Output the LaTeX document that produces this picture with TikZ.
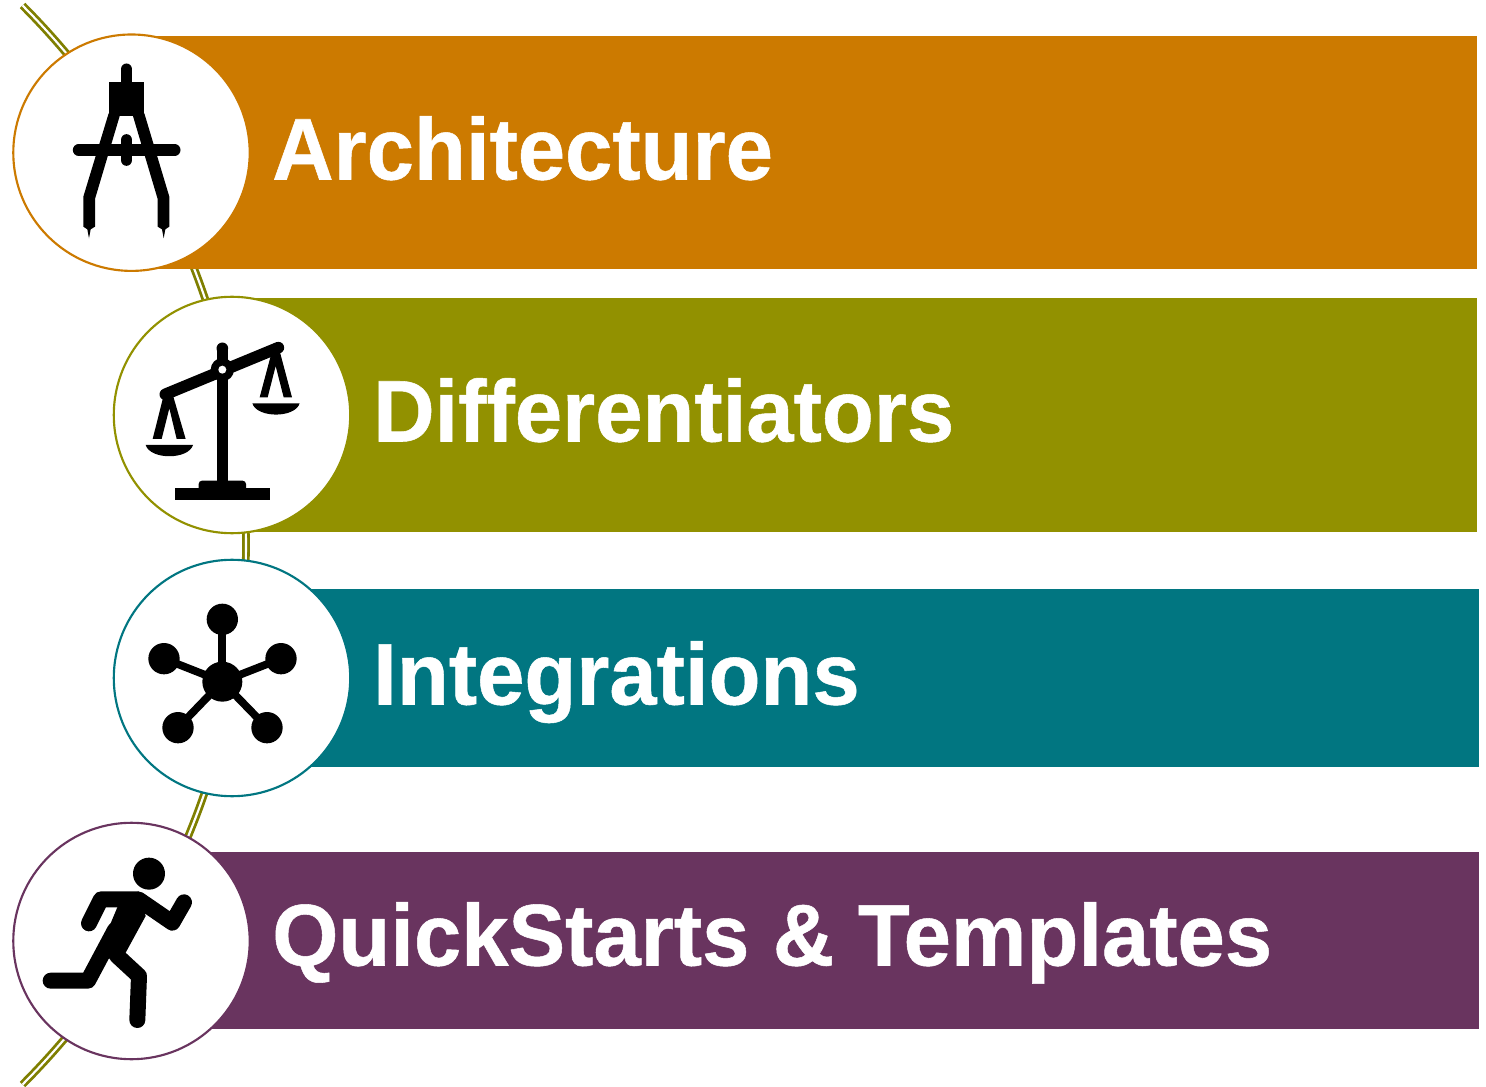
\documentclass[tikz,border=0pt]{standalone}
\usepackage{fontspec}
\setmainfont{Liberation Sans}
\newfontfamily\heavyfont[FakeBold=0.6]{Liberation Sans Bold}
\definecolor{cOrange}{HTML}{CC7A00}
\definecolor{cOlive}{HTML}{929100}
\definecolor{cTeal}{HTML}{017681}
\definecolor{cPurple}{HTML}{69345F}
\definecolor{cLine}{HTML}{7F7F00}
\tikzset{
  ring/.style={circle,draw=#1,fill=white,line width=1.6pt,minimum size=177.3pt,inner sep=0pt},
  label/.style={anchor=base west,text=white,inner sep=0pt,yscale=1.03,transform shape,font=\fontsize{63.75}{70}\heavyfont},
  icon/.style={x=0.25pt,y=-0.25pt,line cap=round,line join=round},
}
\begin{document}
\begin{tikzpicture}[x=0.75pt,y=-0.75pt]
\useasboundingbox (0,0) rectangle (1486,1087);
% arc behind
\draw[cLine,line width=2.1pt,double=white,double distance=1.6pt]
  plot[domain=-45:45,samples=80,smooth] ({-517+763*cos(\x)},{545+763*sin(\x)});
% bars
\fill[cOrange] (132,36) rectangle (1477,269.5);
\fill[cOlive] (232,298.3) rectangle (1477,531.7);
\fill[cTeal] (232,589) rectangle (1479,766.7);
\fill[cPurple] (132,851.7) rectangle (1479,1029.3);
% circles
\node[ring=cOrange] (c1) at (131.5,152.7) {};
\node[ring=cOlive] (c2) at (232,415) {};
\node[ring=cTeal] (c3) at (232,678) {};
\node[ring=cPurple] (c4) at (131.5,941) {};
% labels
\node[label] (t1) at (272,179.5) {Architecture};
\node[label] (t2) at (373,441.5) {Differentiators};
\node[label] (t3) at (373,704.5) {Integrations};
\node[label] (t4) at (272,965.5) {QuickStarts \& Templates};
% compass
\begin{scope}[shift={(0,0)},icon]
\fill (326,247) rectangle (433,348);
\draw[line width=8.75pt] (379.5,208) -- (379.5,250);
\fill (326,340) -- (250,590) -- (250,680) -- (262,688) -- (267,715) -- (272,688) -- (285,680) -- (285,597) -- (360,345) -- cycle;
\fill (433,340) -- (508,590) -- (508,680) -- (496,688) -- (491,715) -- (486,688) -- (473,680) -- (473,597) -- (398,345) -- cycle;
\draw[line width=8.75pt] (236,450) -- (524,450);
\draw[line width=8.75pt] (379.5,420) -- (379.5,480);
\end{scope}
% scales
\begin{scope}[shift={(110,265)},icon]
\draw[line width=8.75pt,line cap=butt] (337,250) -- (337,660);
\fill (337,250) circle (17.5);
\draw[line width=8.75pt] (166,388) -- (505,248);
\fill (337,314) circle (35);
\fill[white] (337,314) circle (12);
\fill (128,522) -- (160,395) -- (190,395) -- (227,522) -- (200,522) -- (178,430) -- (155,522) -- cycle;
\fill (449,397) -- (485,262) -- (510,262) -- (546,397) -- (521,397) -- (497,303) -- (473,397) -- cycle;
\fill (107,540) -- (249,540) .. controls (235,585) and (121,585) .. (107,540) -- cycle;
\fill (427,415) -- (569,415) .. controls (555,460) and (441,460) .. (427,415) -- cycle;
\fill (196,670) rectangle (480,706);
\fill[rounded corners=2.5pt] (266,680) -- (266,647) -- (408,647) -- (408,680) -- cycle;
\end{scope}
% network
\begin{scope}[shift={(110,555)},icon]
\foreach \a/\b in {337/193,162/311,513/311,204/518,471/518}{
  \draw[line width=5.8pt] (337,380) -- (\a,\b);
  \fill (\a,\b) circle (47);
}
\fill (337,380) circle (60);
\end{scope}
% runner
\begin{scope}[shift={(0,810)},icon]
\fill (447,191) circle (48);
\draw[line width=12pt] (267,340) -- (303,268) -- (415,268) -- (517,338) -- (552,277);
\fill (352,292) -- (415,244) -- (437,318) -- (377,428) -- (325,447) -- (290,440) -- cycle;
\draw[line width=12pt] (152,512) -- (264,512) -- (345,360);
\draw[line width=12pt] (351,437) -- (417,498) -- (412,630);
\end{scope}
\end{tikzpicture}
\end{document}
